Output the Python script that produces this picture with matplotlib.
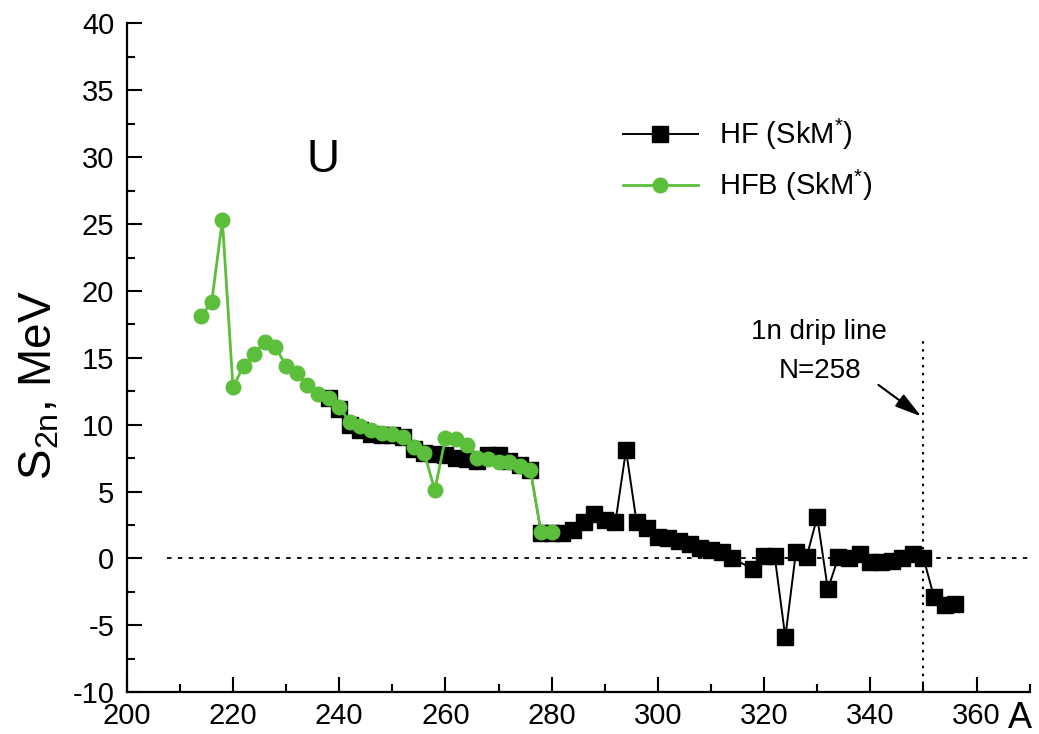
import matplotlib
matplotlib.use("Agg")
import matplotlib.pyplot as plt
from matplotlib.ticker import MultipleLocator

plt.rcParams['font.family'] = ['Liberation Sans', 'DejaVu Sans']
plt.rcParams['axes.unicode_minus'] = False
plt.rcParams['mathtext.default'] = 'regular'

# HF (SkM*) data
hf_A = [238, 240, 242, 244, 246, 248, 250, 252, 254, 256, 258, 260, 262, 264,
        266, 268, 270, 272, 274, 276, 278, 280, 282, 284, 286, 288, 290, 292,
        294, 296, 298, 300, 302, 304, 306, 308, 310, 312, 314, 318, 320, 322,
        324, 326, 328, 330, 332, 334, 336, 338, 340, 342, 344, 346, 348, 350,
        352, 354, 356]
hf_S = [12.0, 11.2, 10.0, 9.6, 9.3, 9.2, 9.2, 9.1, 8.2, 7.9, 7.8, 7.7, 7.5, 7.4,
        7.3, 7.7, 7.7, 7.3, 7.0, 6.6, 1.9, 1.9, 1.9, 2.1, 2.7, 3.3, 2.9, 2.7,
        8.1, 2.7, 2.3, 1.6, 1.5, 1.3, 1.1, 0.8, 0.6, 0.5, 0.0, -0.8, 0.15, 0.15,
        -5.9, 0.5, 0.1, 3.1, -2.3, 0.1, 0.05, 0.3, -0.3, -0.3, -0.2, 0.0, 0.35, 0.05,
        -2.9, -3.5, -3.4]

# HFB (SkM*) data
hfb_A = [214, 216, 218, 220, 222, 224, 226, 228, 230, 232, 234, 236, 238, 240,
         242, 244, 246, 248, 250, 252, 254, 256, 258, 260, 262, 264, 266, 268,
         270, 272, 274, 276, 278, 280]
hfb_S = [18.1, 19.2, 25.3, 12.8, 14.4, 15.3, 16.2, 15.8, 14.4, 13.9, 13.0, 12.3, 12.0, 11.3,
         10.2, 9.9, 9.6, 9.4, 9.3, 9.1, 8.3, 7.9, 5.1, 9.0, 8.9, 8.5, 7.5, 7.4,
         7.2, 7.2, 6.9, 6.6, 2.0, 2.0]

green = '#5cbf3c'

fig = plt.figure(figsize=(10.39, 7.34), dpi=100)
ax = fig.add_axes([0.122, 0.057, 0.869, 0.911])

ax.axhline(0, xmin=(207.5 - 200) / 170, xmax=1.0, color='black', lw=1.3,
           ls=(0, (2.5, 3.5)), zorder=1)
ax.plot([350, 350], [-10, 16.3], color='black', lw=1.5, ls=(0, (1.2, 2.6)), zorder=1)

ax.plot(hf_A, hf_S, color='black', lw=1.4, marker='s', markersize=11,
        markerfacecolor='black', markeredgecolor='black', label='HF (SkM$^{*}$)', zorder=3)
ax.plot(hfb_A, hfb_S, color=green, lw=2.0, marker='o', markersize=10.5,
        markerfacecolor=green, markeredgecolor=green, label='HFB (SkM$^{*}$)', zorder=4)

ax.set_xlim(200, 370)
ax.set_ylim(-10, 40)
ax.xaxis.set_minor_locator(MultipleLocator(10))
ax.yaxis.set_major_locator(MultipleLocator(5))
ax.yaxis.set_minor_locator(MultipleLocator(2.5))
ax.set_xticks([200, 220, 240, 260, 280, 300, 320, 340, 360])

for s in ['top', 'right']:
    ax.spines[s].set_visible(False)
for s in ['left', 'bottom']:
    ax.spines[s].set_linewidth(1.6)

ax.tick_params(which='major', direction='in', length=11, width=1.5, labelsize=21)
ax.tick_params(which='minor', direction='in', length=6, width=1.5)
ax.tick_params(axis='y', which='major', pad=9)
ax.tick_params(axis='x', which='major', pad=7)

ax.text(237, 29.8, 'U', fontsize=33, ha='center', va='center')
ax.text(330.4, 16.9, '1n drip line', fontsize=20, ha='center', va='center')
ax.text(330.6, 14.0, 'N=258', fontsize=20, ha='center', va='center')
ax.annotate('', xy=(350, 10.5), xytext=(341.1, 13.1),
            arrowprops=dict(arrowstyle='-|>,head_length=0.9,head_width=0.25',
                            color='black', lw=1.5, mutation_scale=18))

fig.text(1020 / 1039, 1 - 718 / 734, 'A', fontsize=26, ha='center', va='center')
fig.text(40 / 1039, 1 - 385 / 734, 'S$_{2n}$, MeV', fontsize=33, rotation=90,
         ha='center', va='center')

leg = ax.legend(loc='upper left', bbox_to_anchor=(0.52, 0.90), frameon=False,
                fontsize=21, handlelength=2.6, handletextpad=0.7, labelspacing=0.55)

fig.savefig('out.png', dpi=100)
